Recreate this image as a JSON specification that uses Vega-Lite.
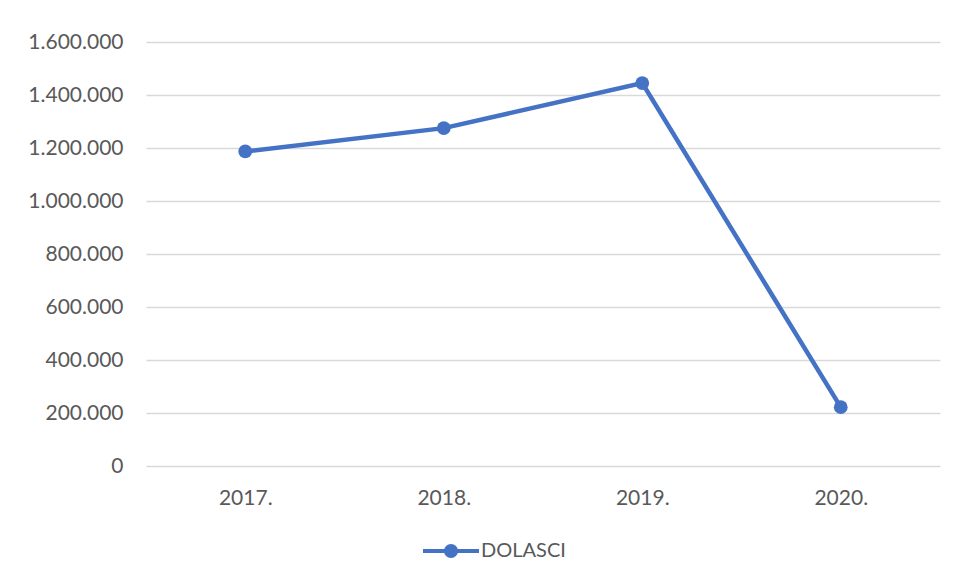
{
  "$schema": "https://vega.github.io/schema/vega-lite/v6.json",
  "autosize": {"type": "none"},
  "padding": {"left": 146, "top": 42, "right": 15, "bottom": 115},
  "width": 794,
  "height": 424,
  "background": "white",
  "data": {
    "values": [
      {"year": "2017.", "value": 1187000, "series": "DOLASCI"},
      {"year": "2018.", "value": 1275000, "series": "DOLASCI"},
      {"year": "2019.", "value": 1445000, "series": "DOLASCI"},
      {"year": "2020.", "value": 222000, "series": "DOLASCI"}
    ]
  },
  "mark": {
    "type": "line",
    "strokeWidth": 4.5,
    "point": {"filled": true, "size": 190}
  },
  "encoding": {
    "x": {
      "field": "year",
      "type": "nominal",
      "sort": null,
      "scale": {"type": "point", "padding": 0.5},
      "axis": {
        "title": null,
        "labelAngle": 0,
        "domain": false,
        "ticks": false,
        "grid": false,
        "labelPadding": 21
      }
    },
    "y": {
      "field": "value",
      "type": "quantitative",
      "scale": {"domain": [0, 1600000], "nice": false},
      "axis": {
        "title": null,
        "values": [0, 200000, 400000, 600000, 800000, 1000000, 1200000, 1400000, 1600000],
        "format": ",.0f",
        "domain": false,
        "ticks": false,
        "grid": true,
        "gridColor": "#d9d9d9",
        "gridWidth": 1.3,
        "labelPadding": 23
      }
    },
    "color": {
      "field": "series",
      "type": "nominal",
      "scale": {"range": ["#4472C4"]},
      "legend": {
        "title": null,
        "orient": "none",
        "legendX": 275,
        "legendY": 479,
        "symbolType": "M-1,0L1,0M-0.18,0A0.18,0.18 0 1,1 0.18,0A0.18,0.18 0 1,1 -0.18,0Z",
        "symbolSize": 3136,
        "symbolStrokeWidth": 4,
        "symbolFillColor": "#4472C4",
        "symbolStrokeColor": "#4472C4",
        "labelOffset": 0,
        "labelFontSize": 20,
        "labelColor": "#595959",
        "labelFont": "Lato"
      }
    }
  },
  "config": {
    "locale": {
      "number": {"decimal": ",", "thousands": ".", "grouping": [3], "currency": ["", " €"]}
    },
    "view": {"stroke": null},
    "axis": {
      "labelFont": "Lato",
      "labelFontSize": 21,
      "labelColor": "#595959"
    }
  }
}
